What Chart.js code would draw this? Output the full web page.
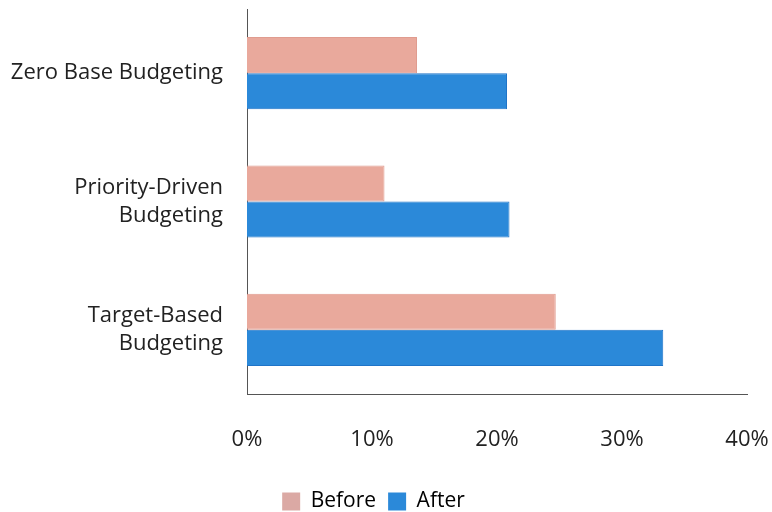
<!DOCTYPE html>
<html>
<head>
<meta charset="utf-8">
<script src="https://cdn.jsdelivr.net/npm/chart.js@4"></script>
<style>
  html, body { margin: 0; padding: 0; background: #fff; }
  #wrap { width: 772px; height: 512px; }
</style>
</head>
<body>
<div id="wrap"><canvas id="chart" width="772" height="512"></canvas></div>
<script>
'use strict';

// data
const categories = [
    'Zero Base Budgeting',
    ['Priority-Driven', 'Budgeting'],
    ['Target-Based', 'Budgeting']
];
const seriesNames = ['Before', 'After'];
const beforeValues = [13.6, 11.0, 24.7];
const afterValues = [20.8, 21.0, 33.3];
const xTicks = [0, 10, 20, 30, 40];

const FONT = "'Open Sans', 'Noto Sans', sans-serif";

new Chart(document.getElementById('chart'), {
    type: 'bar',
    data: {
        labels: categories,
        datasets: [{
            label: seriesNames[0],
            data: beforeValues,
            backgroundColor: '#e9a99c',
            borderColor: '#e09c8f',
            borderWidth: 1
        }, {
            label: seriesNames[1],
            data: afterValues,
            backgroundColor: '#2b89d9',
            borderColor: '#1f74c8',
            borderWidth: 1
        }]
    },
    options: {
        indexAxis: 'y',
        responsive: false,
        animation: false,
        layout: { padding: { top: 9, right: 25, left: 0, bottom: -10 } },
        datasets: { bar: { categoryPercentage: 0.5625, barPercentage: 1 } },
        plugins: {
            tooltip: { enabled: false },
            legend: {
                position: 'bottom',
                labels: {
                    color: '#222',
                    font: { family: FONT, size: 21 },
                    boxWidth: 18, boxHeight: 18,
                    padding: 12,
                    generateLabels: chart => chart.data.datasets.map((ds, i) => ({
                        text: ds.label,
                        fillStyle: i === 0 ? '#dba9a4' : '#2b89d9',
                        strokeStyle: 'transparent',
                        lineWidth: 0,
                        datasetIndex: i
                    }))
                }
            }
        },
        scales: {
            x: {
                min: 0, max: 40,
                afterBuildTicks: s => { s.ticks = xTicks.map(v => ({ value: v })); },
                afterFit: s => {
                    s.height = 85;
                    s.paddingLeft = 0; s.paddingRight = 0;
                },
                grid: { display: false },
                border: { display: true, color: '#555', width: 1 },
                ticks: {
                    color: '#222',
                    padding: 25,
                    font: { family: FONT, size: 22 },
                    callback: v => v + '%'
                }
            },
            y: {
                afterFit: s => {
                    s.width = 247;
                    s.paddingTop = 0; s.paddingBottom = 0;
                },
                grid: { display: false },
                border: { display: true, color: '#555', width: 1 },
                ticks: {
                    color: '#222',
                    padding: 16,
                    font: { family: FONT, size: 22, lineHeight: 1.27 }
                }
            }
        }
    }
});
</script>
</body>
</html>
